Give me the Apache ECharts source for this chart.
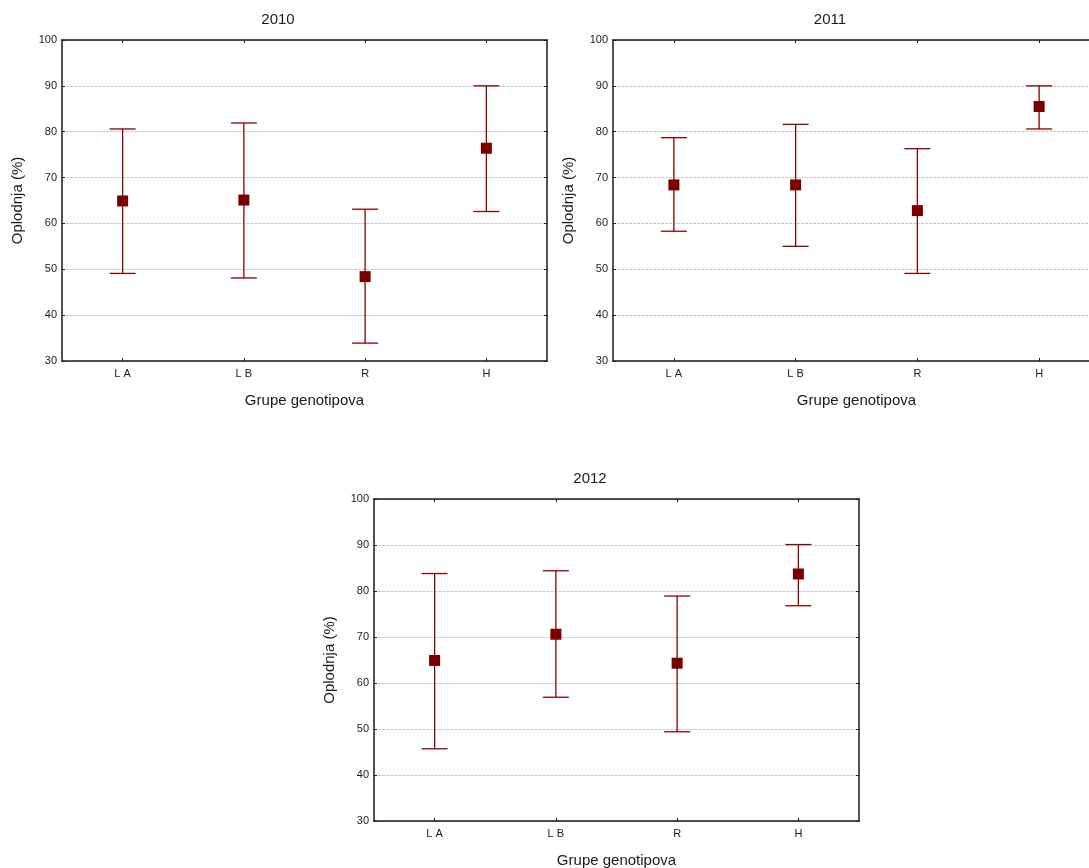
<!DOCTYPE html>
<html>
<head>
<meta charset="utf-8">
<script src="https://cdn.jsdelivr.net/npm/echarts@6/dist/echarts.min.js"></script>
<style>
  html, body { margin: 0; padding: 0; background: #fff; }
  #chart { width: 1089px; height: 868px; }
</style>
</head>
<body>
<div id="chart"></div>
<script>
// Genotype groups and fertility (%) means with interval bounds, per year
const categories = ['L A', 'L B', 'R', 'H'];
const yTicks = [30, 40, 50, 60, 70, 80, 90, 100];

const mean2010 = [64.9, 65.1, 48.4, 76.4];
const low2010  = [49.1, 48.1, 33.9, 62.6];
const high2010 = [80.6, 81.9, 63.1, 90.0];

const mean2011 = [68.4, 68.4, 62.8, 85.5];
const low2011  = [58.3, 55.0, 49.1, 80.6];
const high2011 = [78.7, 81.6, 76.3, 90.0];

const mean2012 = [64.9, 70.6, 64.3, 83.7];
const low2012  = [45.7, 56.9, 49.4, 76.8];
const high2012 = [83.8, 84.4, 78.9, 90.1];

const years = ['2010', '2011', '2012'];
const means = [mean2010, mean2011, mean2012];
const lows = [low2010, low2011, low2012];
const highs = [high2010, high2011, high2012];

const FONT = '"Liberation Sans", Arial, sans-serif';
const RED_LINE = '#8b0000';
const RED_MARK = '#7a0000';

// panel boxes (px); the 2011 panel runs past the right edge of the page
const panels = [
  { left: 62,  top: 40,  width: 485, height: 321, titleX: 278 },
  { left: 613, top: 40,  width: 487, height: 321, titleX: 830 },
  { left: 374, top: 499, width: 485, height: 322, titleX: 590 }
];

const grids = [], xAxes = [], yAxes = [], series = [], graphics = [];

panels.forEach((p, i) => {
  grids.push({
    left: p.left, top: p.top, width: p.width, height: p.height,
    containLabel: false, outerBoundsMode: 'none'
  });

  // bottom category axis
  xAxes.push({
    type: 'category', gridIndex: i, data: categories, position: 'bottom',
    boundaryGap: true,
    name: 'Grupe genotipova', nameLocation: 'middle', nameGap: 32,
    nameTextStyle: { fontFamily: FONT, fontSize: 15, color: '#1a1a1a' },
    axisLine: { show: true, lineStyle: { color: '#1a1a1a', width: 1.5 } },
    axisTick: { show: true, inside: true, length: 3, alignWithLabel: true, lineStyle: { color: '#1a1a1a' } },
    axisLabel: { fontFamily: FONT, fontSize: 11, color: '#1a1a1a', margin: 7 },
    splitLine: { show: false }
  });
  // top frame axis
  xAxes.push({
    type: 'category', gridIndex: i, data: categories, position: 'top',
    boundaryGap: true,
    axisLine: { show: true, lineStyle: { color: '#1a1a1a', width: 1.5 } },
    axisTick: { show: true, inside: true, length: 3, alignWithLabel: true, lineStyle: { color: '#1a1a1a' } },
    axisLabel: { show: false },
    splitLine: { show: false }
  });

  // left value axis
  yAxes.push({
    type: 'value', gridIndex: i, position: 'left', min: 30, max: 100, interval: 10,
    name: 'Oplodnja (%)', nameLocation: 'middle', nameGap: 37, nameRotate: 90,
    nameTextStyle: { fontFamily: FONT, fontSize: 15, color: '#1a1a1a' },
    axisLine: { show: true, lineStyle: { color: '#1a1a1a', width: 1.5 } },
    axisTick: { show: true, inside: true, length: 3, lineStyle: { color: '#1a1a1a' } },
    axisLabel: {
      fontFamily: FONT, fontSize: 11, color: '#1a1a1a', margin: 5,
      formatter: v => (yTicks.indexOf(v) >= 0 ? String(v) : '')
    },
    splitLine: { show: true, lineStyle: { color: '#c8c8c8', width: 1, type: [3, 1] } }
  });
  // right frame axis
  yAxes.push({
    type: 'value', gridIndex: i, position: 'right', min: 30, max: 100, interval: 10,
    axisLine: { show: true, lineStyle: { color: '#1a1a1a', width: 1.5 } },
    axisTick: { show: true, inside: true, length: 3, lineStyle: { color: '#1a1a1a' } },
    axisLabel: { show: false },
    splitLine: { show: false }
  });

  const xIdx = i * 2, yIdx = i * 2;

  // whiskers with caps
  series.push({
    type: 'custom', xAxisIndex: xIdx, yAxisIndex: yIdx, z: 3,
    data: categories.map((c, k) => [k, lows[i][k], highs[i][k]]),
    renderItem: (params, api) => {
      const lo = api.coord([api.value(0), api.value(1)]);
      const hi = api.coord([api.value(0), api.value(2)]);
      const half = 13;
      const style = { stroke: RED_LINE, lineWidth: 1.3 };
      return {
        type: 'group',
        children: [
          { type: 'line', shape: { x1: lo[0], y1: lo[1], x2: hi[0], y2: hi[1] }, style },
          { type: 'line', shape: { x1: hi[0] - half, y1: hi[1], x2: hi[0] + half, y2: hi[1] }, style },
          { type: 'line', shape: { x1: lo[0] - half, y1: lo[1], x2: lo[0] + half, y2: lo[1] }, style }
        ]
      };
    }
  });

  // mean markers
  series.push({
    type: 'scatter', xAxisIndex: xIdx, yAxisIndex: yIdx, z: 4,
    symbol: 'rect', symbolSize: 11,
    itemStyle: { color: RED_MARK, opacity: 1 },
    data: categories.map((c, k) => [k, means[i][k]])
  });

  graphics.push({
    type: 'text', x: p.titleX, y: p.top - 28,
    style: {
      text: years[i], fontFamily: FONT, fontSize: 15, fill: '#1a1a1a',
      textAlign: 'center', align: 'center'
    }
  });
});

const chart = echarts.init(document.getElementById('chart'), null, { renderer: 'canvas' });
chart.setOption({
  animation: false,
  backgroundColor: '#fff',
  grid: grids,
  xAxis: xAxes,
  yAxis: yAxes,
  series: series,
  graphic: graphics
});
</script>
</body>
</html>
